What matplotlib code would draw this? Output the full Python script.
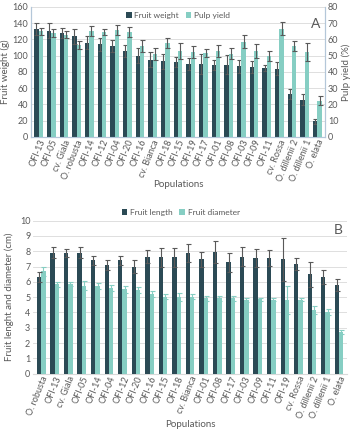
import matplotlib
matplotlib.use("Agg")
import matplotlib.pyplot as plt
import numpy as np

plt.rcParams['font.family'] = ['Lato', 'DejaVu Sans']

# --- panel A data ---
pop_a = ['OFI-13', 'OFI-05', 'cv. Giala', 'O. robusta', 'OFI-14', 'OFI-12', 'OFI-04',
         'OFI-20', 'OFI-16', 'cv. Bianca', 'OFI-18', 'OFI-15', 'OFI-19', 'OFI-17',
         'OFI-01', 'OFI-08', 'OFI-03', 'OFI-09', 'OFI-11', 'cv. Rossa',
         'O. dillenii 2', 'O. dillenii 1', 'O. elata']
weight = [132.5, 131, 128, 124, 116, 114, 112, 106, 100, 95, 93, 92, 90,
          90, 89, 89, 87, 86, 85, 84, 53, 46, 19]
weight_err = [7.5, 9, 6.5, 9, 8, 8, 7, 7, 9, 9, 9, 6.5, 7.5,
              12, 6, 12, 8, 7, 4, 8, 6.5, 6.5, 3]
pulp = [65, 64, 63, 56.4, 65, 64.6, 65.8, 64.8, 56, 51, 58, 53, 52.3,
        51.7, 53, 51.3, 58.5, 53, 49.6, 66.7, 56, 52.3, 22.2]
pulp_err = [2, 2.3, 2, 2.4, 3, 2, 3, 3, 3.7, 3.6, 3, 4.8, 3.5,
            2.7, 3.8, 3.5, 4, 4.4, 3, 4, 3, 5.7, 2.8]

# --- panel B data ---
pop_b = ['O. robusta', 'OFI-13', 'cv. Giala', 'OFI-05', 'OFI-14', 'OFI-04', 'OFI-12',
         'OFI-20', 'OFI-16', 'OFI-15', 'OFI-18', 'cv. Bianca', 'OFI-01', 'OFI-08',
         'OFI-17', 'OFI-03', 'OFI-09', 'OFI-11', 'OFI-19', 'cv. Rossa',
         'O. dillenii 2', 'O. dillenii 1', 'O. elata']
length = [6.3, 7.9, 7.9, 7.9, 7.4, 7.1, 7.4, 7.0, 7.65, 7.6, 7.6, 7.88,
          7.46, 7.96, 7.27, 7.64, 7.57, 7.57, 7.46, 7.16, 6.48, 6.33, 5.8]
length_err = [0.33, 0.37, 0.25, 0.37, 0.3, 0.35, 0.3, 0.4, 0.43, 0.6, 0.6, 0.6,
              0.52, 0.72, 0.63, 0.63, 0.6, 0.53, 1.42, 0.41, 0.82, 0.47, 0.4]
diameter = [6.7, 5.85, 5.85, 5.75, 5.7, 5.6, 5.5, 5.48, 5.2, 5.03, 5.03, 5.03,
            4.92, 4.92, 4.92, 4.82, 4.85, 4.82, 4.82, 4.82, 4.15, 4.0, 2.7]
diameter_err = [0.3, 0.17, 0.14, 0.28, 0.2, 0.2, 0.2, 0.2, 0.17, 0.17, 0.25, 0.17,
                0.18, 0.17, 0.17, 0.15, 0.1, 0.1, 0.9, 0.1, 0.27, 0.2, 0.14]

dark = '#2b4a55'
light = '#86cec3'
txt = '#595959'
grid = '#d9d9d9'
spine = '#b4c7d9'

fig = plt.figure(figsize=(3.56, 4.36), dpi=100)

# ---------- A ----------
ax1 = fig.add_axes([0.087, 0.686, 0.826, 0.298])
ax2 = ax1.twinx()
x = np.arange(len(pop_a))
w = 0.34
ax1.bar(x - w / 2, weight, w, color=dark, yerr=weight_err, ecolor=txt,
        error_kw=dict(elinewidth=0.8, capsize=1.8, capthick=0.8), zorder=3,
        label='Fruit weight')
ax2.bar(x + w / 2, pulp, w, color=light, yerr=pulp_err, ecolor=txt,
        error_kw=dict(elinewidth=0.8, capsize=1.8, capthick=0.8), zorder=3,
        label='Pulp yield')
ax1.set_ylim(0, 160)
ax2.set_ylim(0, 80)
ax1.set_yticks(range(0, 161, 20))
ax2.set_yticks(range(0, 81, 10))
ax1.set_xlim(-0.6, len(pop_a) - 0.4)
ax1.set_xticks(x)
ax1.set_xticklabels(pop_a, rotation=68, ha='right', rotation_mode='anchor')
ax1.yaxis.grid(True, color=grid, linewidth=0.6)
ax1.set_axisbelow(True)
for a in (ax1, ax2):
    a.tick_params(labelsize=6.5, colors=txt, length=0, pad=2)
    a.spines['top'].set_visible(False)
    for s in ['left', 'right', 'bottom']:
        a.spines[s].set_color(spine)
        a.spines[s].set_linewidth(0.8)
ax1.tick_params(axis='x', pad=1)
ax1.set_ylabel('Fruit weight (g)', fontsize=7, color=txt, labelpad=2)
ax2.set_ylabel('Pulp yield (%)', fontsize=7, color=txt, labelpad=2)
ax1.set_xlabel('Populations', fontsize=7, color=txt, labelpad=-2)
h1, l1 = ax1.get_legend_handles_labels()
h2, l2 = ax2.get_legend_handles_labels()
leg = ax2.legend(h1 + h2, l1 + l2, loc='upper center', bbox_to_anchor=(0.5, 1.02),
                 ncol=2, frameon=False, fontsize=6, handlelength=0.7,
                 handleheight=0.7, columnspacing=0.8, handletextpad=0.3)
for t in leg.get_texts():
    t.set_color(txt)
ax2.text(0.985, 0.87, 'A', transform=ax2.transAxes, fontsize=10, color=txt,
         ha='right', va='center')

# ---------- B ----------
ax3 = fig.add_axes([0.093, 0.143, 0.882, 0.351])
xb = np.arange(len(pop_b))
wb = 0.32
ax3.bar(xb - wb / 2, length, wb, color=dark, yerr=length_err, ecolor=txt,
        error_kw=dict(elinewidth=0.8, capsize=1.8, capthick=0.8), zorder=3,
        label='Fruit length')
ax3.bar(xb + wb / 2, diameter, wb, color=light, yerr=diameter_err, ecolor=light,
        error_kw=dict(elinewidth=0.8, capsize=1.8, capthick=0.8), zorder=3,
        label='Fruit diameter')
ax3.set_ylim(0, 10)
ax3.set_yticks(range(0, 11))
ax3.set_xlim(-0.6, len(pop_b) - 0.4)
ax3.set_xticks(xb)
ax3.set_xticklabels(pop_b, rotation=68, ha='right', rotation_mode='anchor')
ax3.yaxis.grid(True, color=grid, linewidth=0.6)
ax3.set_axisbelow(True)
ax3.tick_params(labelsize=6.5, colors=txt, length=0, pad=2)
for s in ['top', 'left', 'right']:
    ax3.spines[s].set_visible(False)
ax3.spines['bottom'].set_color(grid)
ax3.spines['bottom'].set_linewidth(0.8)
ax3.tick_params(axis='x', pad=1)
ax3.set_ylabel('Fruit lenght and diameter (cm)', fontsize=7, color=txt, labelpad=4)
ax3.set_xlabel('Populations', fontsize=7, color=txt, labelpad=0)
leg = ax3.legend(loc='lower center', bbox_to_anchor=(0.47, 0.98), ncol=2,
                 frameon=False, fontsize=6, handlelength=0.7, handleheight=0.7,
                 columnspacing=0.8, handletextpad=0.3)
for t in leg.get_texts():
    t.set_color(txt)
ax3.text(0.985, 0.94, 'B', transform=ax3.transAxes, fontsize=10, color=txt,
         ha='right', va='center')

fig.savefig('out.png', dpi=100)
